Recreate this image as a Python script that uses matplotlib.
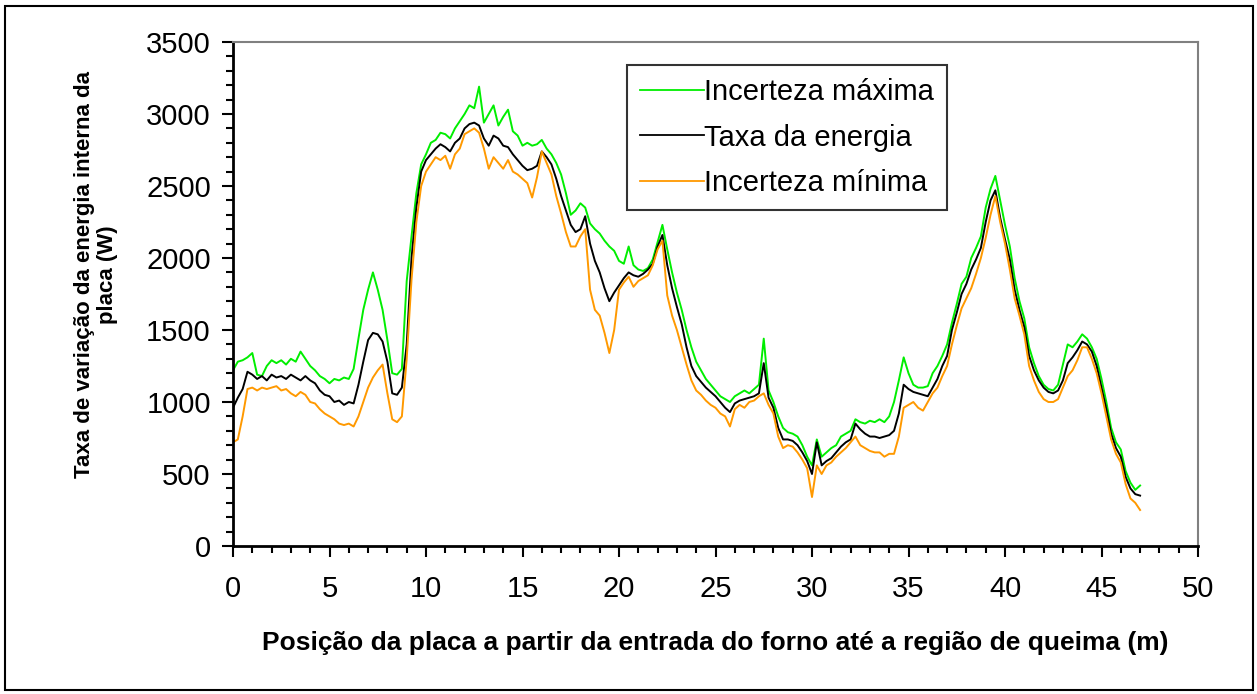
import numpy as np
import matplotlib
matplotlib.use("Agg")
import matplotlib.pyplot as plt
from matplotlib.ticker import MultipleLocator
from matplotlib.patches import Rectangle

plt.rcParams['font.family'] = ['Liberation Sans', 'DejaVu Sans']

# Position (m), step 0.25 m from 0 to 47
pos_start = 0.0
pos_step = 0.25

taxa = [
    960, 1030, 1090, 1210,      # 0
    1190, 1160, 1180, 1150,     # 1
    1190, 1170, 1180, 1160,     # 2
    1190, 1170, 1150, 1180,     # 3
    1150, 1130, 1080, 1050,     # 4
    1040, 1000, 1010, 980,      # 5
    1000, 990, 1120, 1280,      # 6
    1430, 1480, 1470, 1420,     # 7
    1280, 1060, 1050, 1100,     # 8
    1400, 2000, 2350, 2600,     # 9
    2680, 2720, 2760, 2790,     # 10
    2770, 2740, 2800, 2830,     # 11
    2900, 2930, 2940, 2920,     # 12
    2830, 2780, 2850, 2830,     # 13
    2780, 2770, 2720, 2680,     # 14
    2640, 2610, 2620, 2640,     # 15
    2740, 2700, 2650, 2550,     # 16
    2430, 2330, 2230, 2180,     # 17
    2200, 2290, 2100, 1980,     # 18
    1900, 1790, 1700, 1760,     # 19
    1810, 1860, 1900, 1880,     # 20
    1870, 1890, 1920, 1960,     # 21
    2080, 2160, 1950, 1790,     # 22
    1660, 1540, 1380, 1250,     # 23
    1180, 1140, 1100, 1070,     # 24
    1040, 1000, 960, 930,       # 25
    990, 1010, 1020, 1030,      # 26
    1040, 1060, 1270, 1030,     # 27
    960, 820, 740, 740,         # 28
    730, 700, 650, 590,         # 29
    500, 720, 560, 590,         # 30
    610, 650, 690, 720,         # 31
    740, 850, 810, 780,         # 32
    760, 760, 750, 760,         # 33
    770, 800, 920, 1120,        # 34
    1090, 1070, 1060, 1050,     # 35
    1040, 1100, 1160, 1250,     # 36
    1320, 1500, 1620, 1750,     # 37
    1820, 1920, 1990, 2070,     # 38
    2250, 2400, 2470, 2280,     # 39
    2130, 1990, 1780, 1640,     # 40
    1520, 1320, 1220, 1150,     # 41
    1100, 1070, 1060, 1080,     # 42
    1150, 1270, 1310, 1360,     # 43
    1420, 1400, 1350, 1250,     # 44
    1100, 950, 780, 680,        # 45
    620, 480, 400, 360,         # 46
    350,                        # 47
]

inc_max = [
    1220, 1280, 1290, 1310,
    1340, 1190, 1180, 1250,
    1290, 1270, 1290, 1260,
    1300, 1280, 1350, 1300,
    1250, 1220, 1180, 1160,
    1130, 1160, 1150, 1170,
    1160, 1230, 1440, 1640,
    1780, 1900, 1780, 1640,
    1430, 1200, 1190, 1230,
    1840, 2150, 2450, 2650,
    2720, 2800, 2820, 2870,
    2860, 2830, 2900, 2950,
    3000, 3060, 3040, 3190,
    2940, 3000, 3060, 2920,
    2980, 3030, 2880, 2850,
    2780, 2800, 2780, 2790,
    2820, 2760, 2720, 2660,
    2580, 2450, 2300, 2330,
    2380, 2350, 2240, 2200,
    2170, 2120, 2080, 2050,
    1980, 1960, 2080, 1950,
    1920, 1910, 1930, 1990,
    2110, 2230, 2060, 1900,
    1760, 1640, 1500, 1380,
    1280, 1220, 1160, 1120,
    1080, 1040, 1020, 1000,
    1040, 1060, 1080, 1060,
    1090, 1120, 1440, 1080,
    1000, 900, 820, 790,
    780, 760, 700, 620,
    560, 740, 620, 650,
    680, 700, 760, 780,
    800, 880, 860, 850,
    870, 860, 880, 860,
    900, 1000, 1150, 1310,
    1200, 1120, 1100, 1100,
    1110, 1200, 1250, 1320,
    1400, 1550, 1680, 1820,
    1870, 2000, 2070, 2150,
    2350, 2480, 2570, 2400,
    2230, 2080, 1860, 1700,
    1580, 1380, 1270, 1180,
    1120, 1090, 1080, 1120,
    1260, 1400, 1380, 1420,
    1470, 1440, 1380, 1300,
    1160, 1000, 820, 720,
    670, 520, 440, 390,
    420,
]

inc_min = [
    720, 740, 900, 1090,
    1100, 1080, 1100, 1090,
    1100, 1110, 1080, 1090,
    1060, 1040, 1070, 1050,
    1000, 990, 950, 920,
    900, 880, 850, 840,
    850, 830, 900, 1000,
    1100, 1170, 1220, 1260,
    1060, 880, 860, 900,
    1300, 1850, 2250, 2500,
    2600, 2650, 2700, 2680,
    2710, 2620, 2720, 2760,
    2860, 2880, 2900, 2870,
    2760, 2620, 2700, 2660,
    2620, 2680, 2600, 2580,
    2550, 2520, 2420, 2560,
    2740, 2660, 2580, 2430,
    2310, 2180, 2080, 2080,
    2150, 2200, 1780, 1640,
    1600, 1480, 1340, 1500,
    1780, 1830, 1870, 1800,
    1840, 1860, 1880, 1950,
    2060, 2120, 1740, 1600,
    1500, 1380, 1260, 1150,
    1080, 1050, 1010, 980,
    960, 920, 900, 830,
    950, 980, 960, 1000,
    1010, 1040, 1060, 980,
    920, 760, 680, 700,
    690, 650, 600, 540,
    340, 560, 500, 560,
    580, 620, 650, 680,
    720, 760, 700, 680,
    660, 650, 650, 620,
    640, 640, 760, 960,
    980, 1000, 960, 940,
    1000, 1060, 1100, 1180,
    1250, 1400, 1530, 1650,
    1720, 1790, 1890, 2000,
    2140, 2300, 2430, 2250,
    2100, 1920, 1720, 1600,
    1470, 1250, 1150, 1070,
    1020, 1000, 1000, 1020,
    1100, 1180, 1220, 1290,
    1380, 1380, 1300, 1200,
    1060, 900, 740, 640,
    580, 430, 330, 300,
    250,
]

series_labels = ["Incerteza máxima", "Taxa da energia", "Incerteza mínima"]
series_colors = ["#00EE00", "#000000", "#FF9900"]

xlabel = "Posição da placa a partir da entrada do forno até a região de queima (m)"
ylabel = "Taxa de variação da energia interna da\nplaca (W)"

n = len(taxa)
pos = pos_start + pos_step * np.arange(n)

fig = plt.figure(figsize=(12.57, 6.94), dpi=100)
W, H = 1257, 694
ax = fig.add_axes([233 / W, 1 - 546 / H, (1198 - 233) / W, (546 - 42) / H])

for vals, lab, col in zip([inc_max, taxa, inc_min], series_labels, series_colors):
    ax.plot(pos[:len(vals)], vals, color=col, lw=1.4, label=lab)

ax.set_xlim(0, 50)
ax.set_ylim(0, 3500)
ax.xaxis.set_major_locator(MultipleLocator(5))
ax.xaxis.set_minor_locator(MultipleLocator(1))
ax.yaxis.set_major_locator(MultipleLocator(500))
ax.yaxis.set_minor_locator(MultipleLocator(100))
ax.tick_params(which='major', direction='out', length=8, width=1.5,
               labelsize=21, pad=6)
ax.tick_params(which='minor', direction='out', length=5, width=1.5)
ax.tick_params(axis='x', which='major', pad=13)
ax.tick_params(axis='y', which='major', pad=8)

for s in ['left', 'bottom']:
    ax.spines[s].set_linewidth(2)
    ax.spines[s].set_color('black')
for s in ['top', 'right']:
    ax.spines[s].set_linewidth(1.5)
    ax.spines[s].set_color('#808080')

ax.set_xlabel(xlabel, fontsize=19, fontweight='bold', labelpad=20)
ax.set_ylabel(ylabel, fontsize=16, fontweight='bold', linespacing=1.1)
ax.yaxis.set_label_coords((118 - 233) / 965, (546 - 275) / 504)

leg = ax.legend(loc='upper left', bbox_to_anchor=((627 - 233) / (1198 - 233), 1 - (65 - 42) / (546 - 42)),
                fontsize=21, frameon=True, fancybox=False, handlelength=2.2,
                handletextpad=0.0, borderpad=0.45, labelspacing=0.6,
                borderaxespad=0)
leg.get_frame().set_edgecolor('black')
leg.get_frame().set_linewidth(1.5)
for l in leg.get_lines():
    l.set_linewidth(1.3)

fig.patches.append(Rectangle((5 / W, 4 / H), (1253 - 5) / W, (688 - 4) / H,
                             transform=fig.transFigure, fill=False,
                             edgecolor='black', linewidth=1.5))

fig.savefig("out.png", dpi=100)
